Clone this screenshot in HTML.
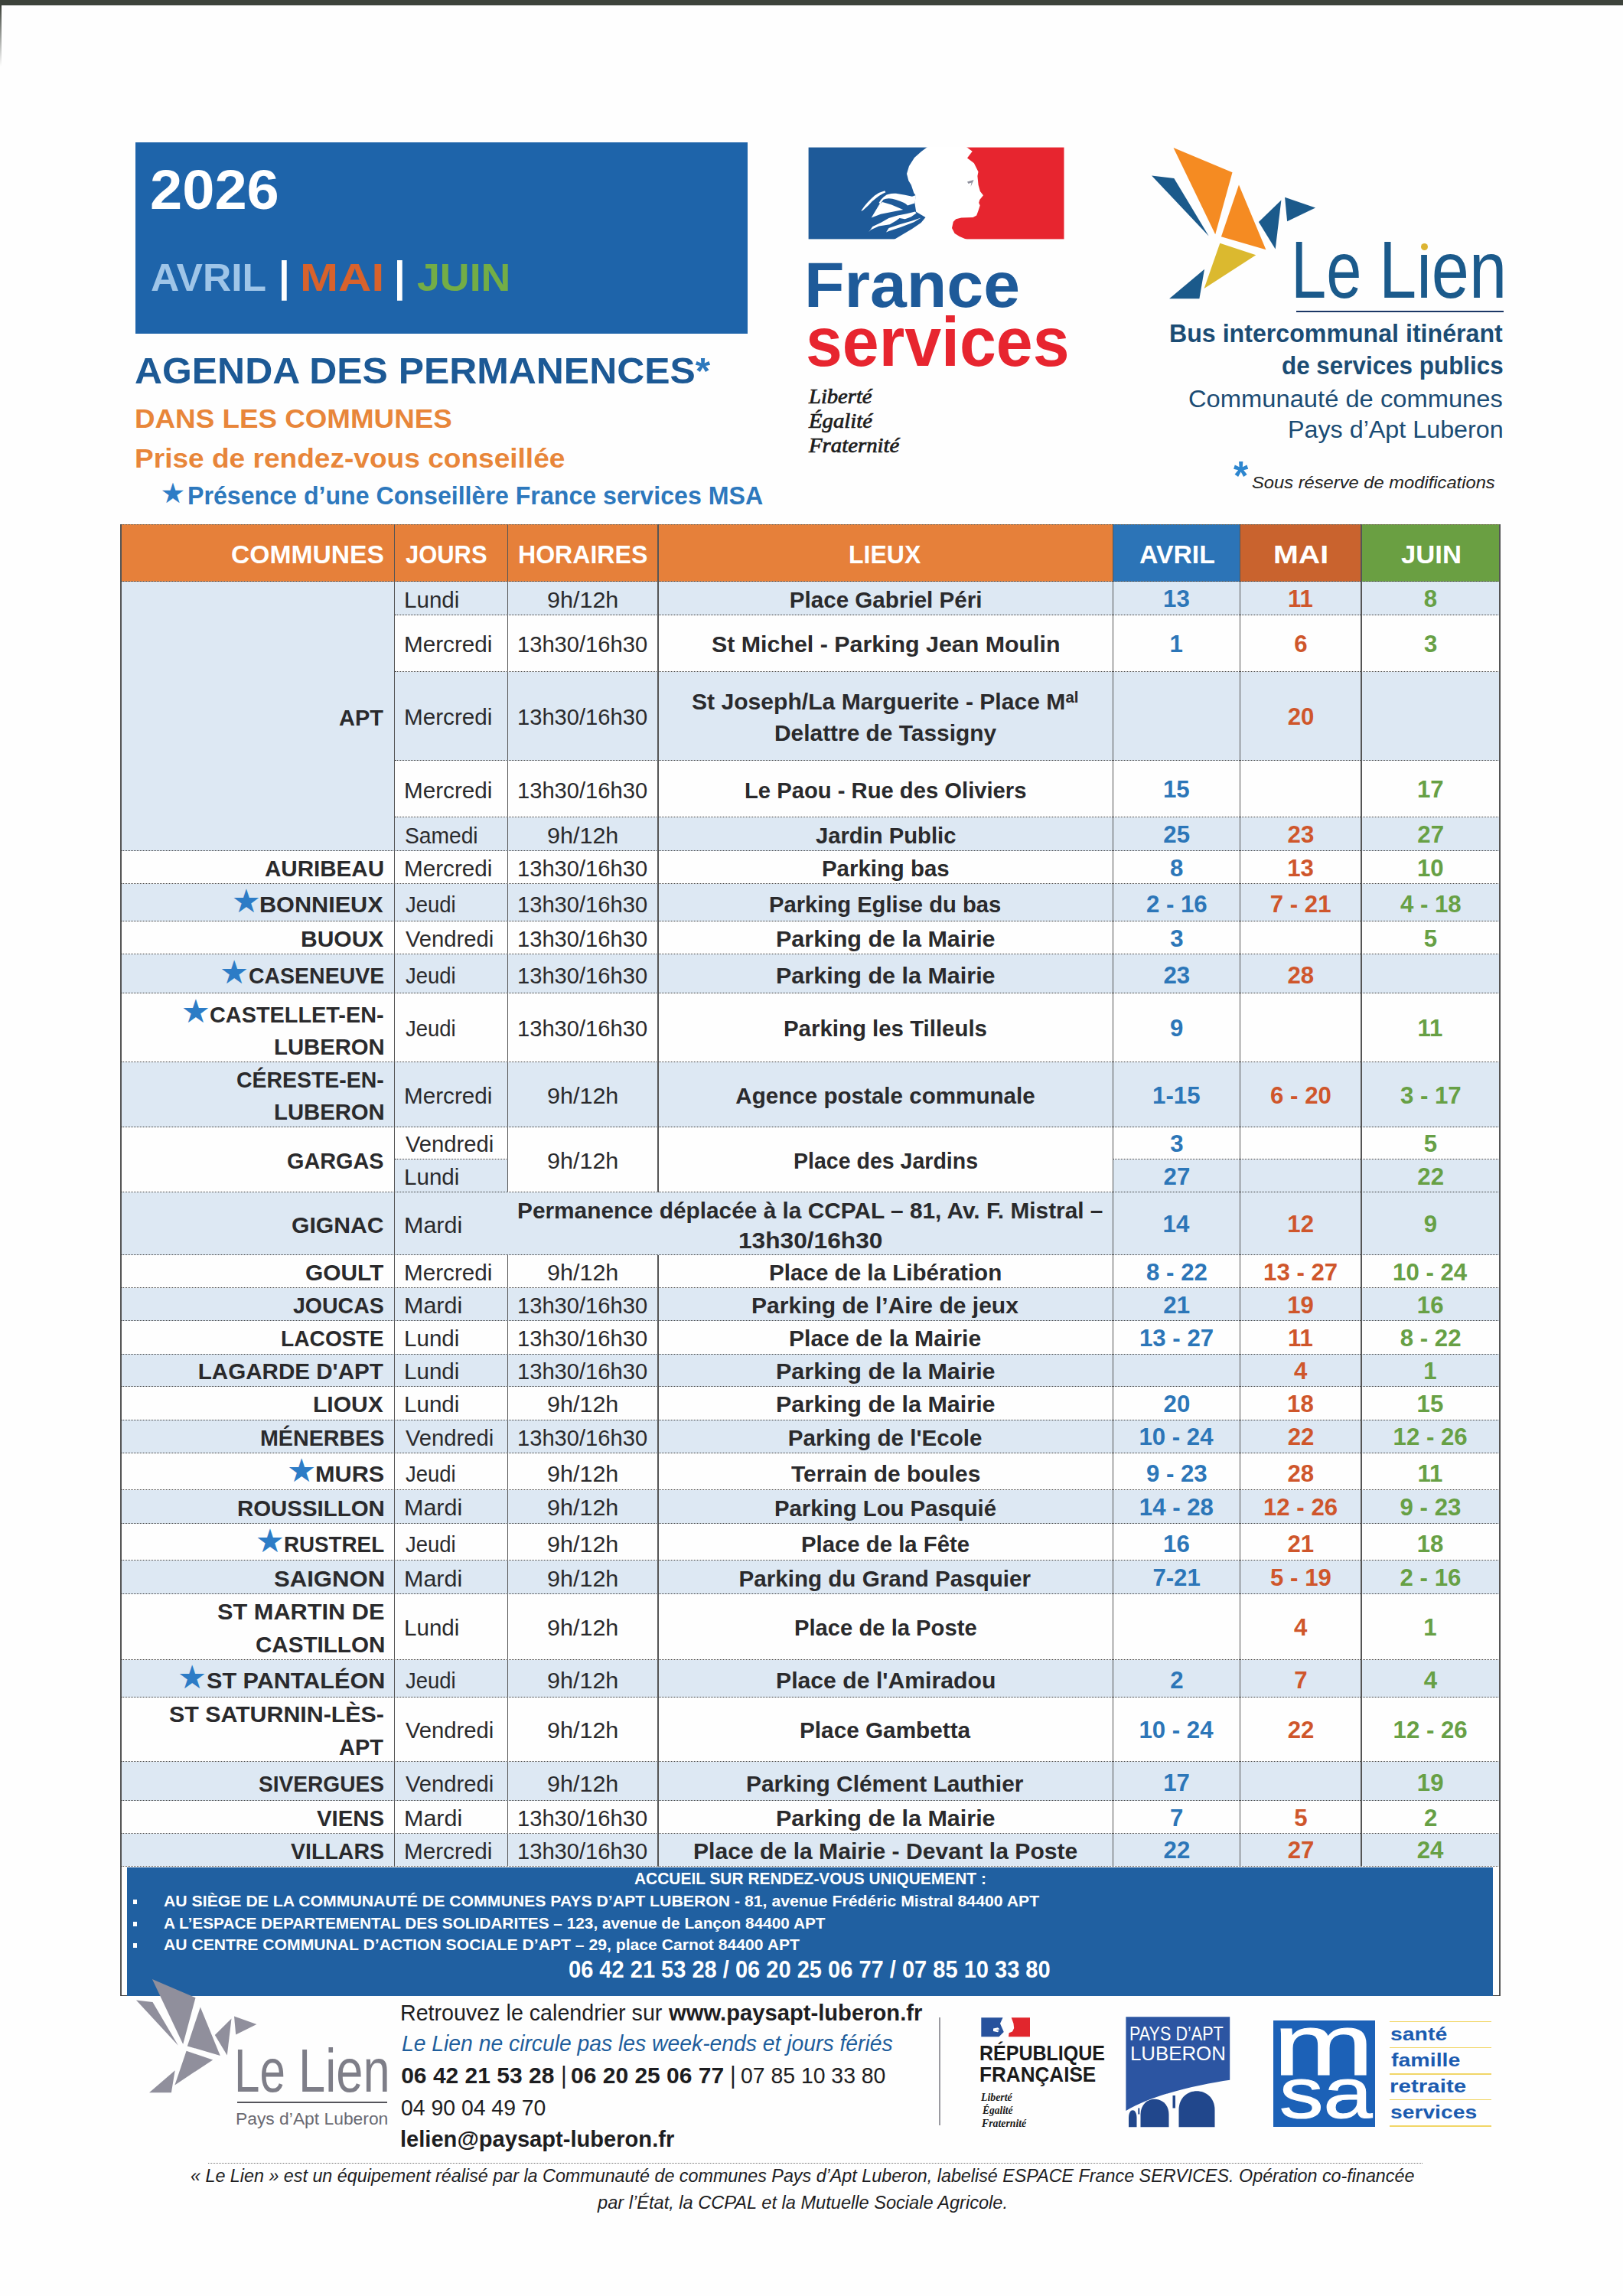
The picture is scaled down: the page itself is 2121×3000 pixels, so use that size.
<!DOCTYPE html>
<html lang="fr"><head><meta charset="utf-8"><title>Le Lien – Agenda des permanences 2026</title><style>
html,body{margin:0;padding:0;background:#fff;}
body{width:2121px;height:3000px;overflow:hidden;}
#p{position:relative;width:2121px;height:3000px;background:#fefefe;overflow:hidden;
font-family:"Liberation Sans",sans-serif;}
#p>div,#p>span,#p>svg{position:absolute;}
.t{white-space:nowrap;line-height:1;display:block;transform-origin:0 50%;}
.t sup{font-size:68%;vertical-align:baseline;position:relative;top:-0.42em;line-height:0;}
</style></head><body><div id="p">
<div style="left:0.0px;top:0.0px;width:2121.0px;height:6.5px;background:#3d433b;"></div>
<div style="left:0.0px;top:7.0px;width:2.0px;height:80.0px;background:linear-gradient(#3b4139,#fff);"></div>
<div style="left:177.0px;top:185.5px;width:799.8px;height:250.1px;background:#1e64aa;"></div>
<span class="t" style="left:196.0px;top:213.4px;font-size:71.5px;color:#fff;font-weight:700;transform:scaleX(1.061);">2026</span>
<span class="t" style="left:196.9px;top:337.9px;font-size:49.5px;color:#9fc5e8;font-weight:700;transform:scaleX(1.043);">AVRIL</span>
<span class="t" style="left:363.5px;top:333.4px;font-size:56.0px;color:#fff;font-weight:700;transform:scaleX(0.934);">|</span>
<span class="t" style="left:392.3px;top:337.9px;font-size:49.5px;color:#d8622c;font-weight:700;transform:scaleX(1.213);">MAI</span>
<span class="t" style="left:515.4px;top:333.4px;font-size:56.0px;color:#fff;font-weight:700;transform:scaleX(0.934);">|</span>
<span class="t" style="left:544.7px;top:337.9px;font-size:49.5px;color:#73ad46;font-weight:700;transform:scaleX(1.085);">JUIN</span>
<span class="t" style="left:176.3px;top:459.9px;font-size:48.4px;color:#1c5995;font-weight:700;transform:scaleX(1.031);">AGENDA DES PERMANENCES<span style="color:#2d78bd">*</span></span>
<span class="t" style="left:176.1px;top:529.9px;font-size:34.5px;color:#e8863a;font-weight:700;transform:scaleX(1.066);">DANS LES COMMUNES</span>
<span class="t" style="left:176.1px;top:580.9px;font-size:35.0px;color:#e8863a;font-weight:700;transform:scaleX(1.059);">Prise de rendez-vous conseillée</span>
<span class="t" style="left:209.6px;top:627.0px;font-size:36.5px;color:#2d7cc6;font-family:'DejaVu Sans',sans-serif;">★</span>
<span class="t" style="left:245.3px;top:630.9px;font-size:33.0px;color:#2d78bd;font-weight:700;transform:scaleX(0.974);">Présence d’une Conseillère France services MSA</span>
<svg style="left:1056px;top:192px" width="336" height="122" viewBox="0 0 336 122">
<rect x="0.6" y="0.6" width="160" height="119.8" fill="#1e5a99"/>
<rect x="188" y="0.6" width="146.5" height="119.8" fill="#e7252f"/>
<path fill="#fff" d="M156 0 L148 6 L139 14 L132 25 L129 35 L131.300 44 L134.800 49.700 L138.300 60.200 L140.600 63.200 L139.500 74 L141.200 84.800 L153.500 91.900 L147.700 98.900 L136 107.100 L124.200 114.100 L112.500 121 L208 121 L206.200 120.400 L198 117 L191.600 112.900 L188 105.900 L189.800 97.700 L193.300 94.200 L200.300 92.400 L215.600 92.100 L220.200 89.500 L222.600 83.100 L224.700 76.600 L223.200 73.100 L224.300 69 L229 63.200 L224.900 57.900 L222.600 49.700 L221.400 38 L222.500 32.400 L216.900 21.300 L208 14.600 L214.700 5.700 L206.900 0 Z"/>
<g fill="#fff">
<path d="M69.2 83.7 Q76 73 86.8 63.8 Q93 59 100.2 57.3 L101.4 59.3 Q94 62.500 89.1 66.7 Q83 71 79.2 76 L71.6 83.1 Z"/>
<path d="M92.6 73.1 Q95 68.500 98.5 65.5 Q101 63 104.3 62 Q110 60.300 114.9 60.8 L126.600 62.8 L136 64.7 L141 63 L139.500 73.500 L130.1 76.6 Q128 74.500 125.4 73.1 Q120 70.500 114.9 69 Q110 67.500 105.5 67.3 Q101.500 67.400 98.5 68.7 L94.4 74.5 Z"/>
<path d="M93.2 74.9 L97.3 72 L109 75.5 L119.6 80.1 L124.2 81.9 L110.2 84.8 L95 87.8 L82.7 92.4 Z"/>
<path d="M141.500 86.500 L134.8 91.3 Q130 93.500 126.6 94.2 L119.6 93 L114.9 96.5 L106.7 101.2 L92.6 103.6 L82.1 108.2 L79.2 111.2 L84.4 104.1 L95 98.9 L105.5 93 L117.2 89.5 L128.9 87.2 L140 84.500 Z"/>
<path d="M102 111.5 L105.5 105.9 L119.6 101.2 L136 96.5 L147.7 92.4 L138.3 98.3 L120.7 105 L105.5 110 Z"/>
</g>
<path d="M208 45.500 l8.500 -2.500 l-4 9 l1 -5.500 l-4 1.500 z" fill="#8d8f9c"/>
</svg>
<span class="t" style="left:1051.0px;top:330.8px;font-size:83.0px;color:#1e5a99;font-weight:700;transform:scaleX(1.036);">France</span>
<span class="t" style="left:1052.5px;top:401.7px;font-size:90.0px;color:#e7252f;font-weight:700;transform:scaleX(0.956);">services</span>
<span class="t" style="left:1056.9px;top:505.2px;font-size:26.4px;color:#1c1c1c;font-style:italic;font-family:'Liberation Serif',serif;transform:scaleX(1.082);-webkit-text-stroke:0.7px #1c1c1c;">Liberté</span>
<span class="t" style="left:1056.9px;top:537.2px;font-size:26.4px;color:#1c1c1c;font-style:italic;font-family:'Liberation Serif',serif;transform:scaleX(1.089);-webkit-text-stroke:0.7px #1c1c1c;">Égalité</span>
<span class="t" style="left:1057.4px;top:568.6px;font-size:26.4px;color:#1c1c1c;font-style:italic;font-family:'Liberation Serif',serif;transform:scaleX(1.091);-webkit-text-stroke:0.7px #1c1c1c;">Fraternité</span>
<svg style="left:1505.4px;top:193.1px" width="216" height="199"><polygon fill="#f58b22" points="28.5,0.0 105.5,32.3 83.2,113.2"/><polygon fill="#1b5a8b" points="0.0,36.5 29.3,40.0 74.7,115.5"/><polygon fill="#f58b22" points="114.0,48.5 149.4,133.2 90.9,116.3"/><polygon fill="#1b5a8b" points="169.4,68.5 139.9,97.0 161.7,132.5"/><polygon fill="#1b5a8b" points="174.1,64.7 214.1,78.6 177.1,96.3"/><polygon fill="#dbb92f" points="89.3,124.8 136.3,140.2 68.6,184.1"/><polygon fill="#1b5a8b" points="23.1,197.2 69.0,158.7 62.4,197.2"/></svg>
<span class="t" style="left:1687.3px;top:299.9px;font-size:105.5px;color:#1b5a8b;transform:scaleX(0.787);">Le</span>
<span class="t" style="left:1802.3px;top:299.9px;font-size:105.5px;color:#1b5a8b;transform:scaleX(0.838);">Lien</span>
<div style="left:1855.7px;top:311.0px;width:10.9px;height:15.3px;background:#fefefe;"></div>
<div style="left:1856.6px;top:317.6px;width:9.2px;height:9.2px;background:#dcb432;border-radius:50%;"></div>
<div style="left:1693.9px;top:406.4px;width:270.7px;height:1.8px;background:#1b3766;"></div>
<span class="t" style="left:1527.6px;top:419.7px;font-size:32.5px;color:#1b4c74;font-weight:700;transform:scaleX(0.989);">Bus intercommunal itinérant</span>
<span class="t" style="left:1674.6px;top:461.8px;font-size:32.5px;color:#1b4c74;font-weight:700;transform:scaleX(0.966);">de services publics</span>
<span class="t" style="left:1552.6px;top:506.1px;font-size:31.0px;color:#1b4c74;transform:scaleX(1.055);">Communauté de communes</span>
<span class="t" style="left:1682.6px;top:546.4px;font-size:31.0px;color:#1b4c74;transform:scaleX(1.041);">Pays d’Apt Luberon</span>
<span class="t" style="left:1611.8px;top:594.1px;font-size:54.0px;color:#2d86cf;font-weight:700;transform:scaleX(0.914);">*</span>
<span class="t" style="left:1636.3px;top:620.4px;font-size:22.5px;color:#222;font-style:italic;transform:scaleX(1.054);">Sous réserve de modifications</span>
<div style="left:158.0px;top:685.2px;width:1296.8px;height:74.8px;background:#e6803a;"></div>
<div style="left:1454.8px;top:685.2px;width:166.0px;height:74.8px;background:#2c74b7;"></div>
<div style="left:1620.8px;top:685.2px;width:158.2px;height:74.8px;background:#c9632e;"></div>
<div style="left:1779.0px;top:685.2px;width:181.0px;height:74.8px;background:#6a9f42;"></div>
<span class="t" style="left:302.1px;top:709.3px;font-size:32.3px;color:#fff;font-weight:700;transform:scaleX(1.041);">COMMUNES</span>
<span class="t" style="left:529.5px;top:709.3px;font-size:32.3px;color:#fff;font-weight:700;transform:scaleX(0.958);">JOURS</span>
<span class="t" style="left:676.7px;top:709.3px;font-size:32.3px;color:#fff;font-weight:700;transform:scaleX(0.993);">HORAIRES</span>
<span class="t" style="left:1109.3px;top:709.3px;font-size:32.3px;color:#fff;font-weight:700;transform:scaleX(0.991);">LIEUX</span>
<span class="t" style="left:1488.5px;top:709.3px;font-size:32.3px;color:#fff;font-weight:700;transform:scaleX(1.046);">AVRIL</span>
<span class="t" style="left:1663.8px;top:709.3px;font-size:32.3px;color:#fff;font-weight:700;transform:scaleX(1.220);">MAI</span>
<span class="t" style="left:1831.0px;top:709.3px;font-size:32.3px;color:#fff;font-weight:700;transform:scaleX(1.072);">JUIN</span>
<div style="left:158.0px;top:760.0px;width:357.6px;height:352.0px;background:#dde8f3;"></div>
<div style="left:515.6px;top:760.0px;width:1444.4px;height:44.0px;background:#dde8f3;"></div>
<div style="left:515.6px;top:877.5px;width:1444.4px;height:116.5px;background:#dde8f3;"></div>
<div style="left:515.6px;top:1068.0px;width:1444.4px;height:44.0px;background:#dde8f3;"></div>
<div style="left:158.0px;top:1155.0px;width:1802.0px;height:48.5px;background:#dde8f3;"></div>
<div style="left:158.0px;top:1247.0px;width:1802.0px;height:50.5px;background:#dde8f3;"></div>
<div style="left:158.0px;top:1388.0px;width:1802.0px;height:84.5px;background:#dde8f3;"></div>
<div style="left:158.0px;top:1558.0px;width:1802.0px;height:82.0px;background:#dde8f3;"></div>
<div style="left:158.0px;top:1683.0px;width:1802.0px;height:43.0px;background:#dde8f3;"></div>
<div style="left:158.0px;top:1769.3px;width:1802.0px;height:42.7px;background:#dde8f3;"></div>
<div style="left:158.0px;top:1855.3px;width:1802.0px;height:43.4px;background:#dde8f3;"></div>
<div style="left:158.0px;top:1946.7px;width:1802.0px;height:44.3px;background:#dde8f3;"></div>
<div style="left:158.0px;top:2039.0px;width:1802.0px;height:44.0px;background:#dde8f3;"></div>
<div style="left:158.0px;top:2168.6px;width:1802.0px;height:49.0px;background:#dde8f3;"></div>
<div style="left:158.0px;top:2302.0px;width:1802.0px;height:51.0px;background:#dde8f3;"></div>
<div style="left:158.0px;top:2395.7px;width:1802.0px;height:42.8px;background:#dde8f3;"></div>
<div style="left:515.6px;top:1514.7px;width:148.0px;height:43.3px;background:#dde8f3;"></div>
<div style="left:1454.8px;top:1514.7px;width:505.2px;height:43.3px;background:#dde8f3;"></div>
<span class="t" style="left:443.2px;top:923.3px;font-size:29.6px;color:#2a2a2c;font-weight:700;transform:scaleX(0.978);">APT</span>
<span class="t" style="left:527.6px;top:769.5px;font-size:28.6px;color:#2a2a2c;transform:scaleX(1.034);">Lundi</span>
<span class="t" style="left:715.4px;top:769.5px;font-size:28.6px;color:#2a2a2c;transform:scaleX(1.067);">9h/12h</span>
<span class="t" style="left:1031.8px;top:768.6px;font-size:29.6px;color:#2a2a2c;font-weight:700;">Place Gabriel Péri</span>
<span class="t" style="left:1520.1px;top:767.3px;font-size:31.2px;color:#2c76b8;font-weight:700;">13</span>
<span class="t" style="left:1682.9px;top:767.3px;font-size:31.2px;color:#cf562b;font-weight:700;">11</span>
<span class="t" style="left:1860.8px;top:767.3px;font-size:31.2px;color:#67a045;font-weight:700;">8</span>
<span class="t" style="left:527.6px;top:828.2px;font-size:28.6px;color:#2a2a2c;transform:scaleX(1.037);">Mercredi</span>
<span class="t" style="left:676.1px;top:828.2px;font-size:28.6px;color:#2a2a2c;transform:scaleX(1.019);">13h30/16h30</span>
<span class="t" style="left:930.0px;top:827.4px;font-size:29.6px;color:#2a2a2c;font-weight:700;transform:scaleX(1.026);">St Michel - Parking Jean Moulin</span>
<span class="t" style="left:1528.6px;top:826.0px;font-size:31.2px;color:#2c76b8;font-weight:700;">1</span>
<span class="t" style="left:1691.2px;top:826.0px;font-size:31.2px;color:#cf562b;font-weight:700;">6</span>
<span class="t" style="left:1861.0px;top:826.0px;font-size:31.2px;color:#67a045;font-weight:700;">3</span>
<span class="t" style="left:527.6px;top:923.2px;font-size:28.6px;color:#2a2a2c;transform:scaleX(1.037);">Mercredi</span>
<span class="t" style="left:676.1px;top:923.2px;font-size:28.6px;color:#2a2a2c;transform:scaleX(1.019);">13h30/16h30</span>
<span class="t sup" style="left:904.1px;top:901.9px;font-size:29.6px;color:#2a2a2c;font-weight:700;transform:scaleX(1.017);">St Joseph/La Marguerite - Place M<sup>al</sup></span>
<span class="t" style="left:1011.5px;top:942.9px;font-size:29.6px;color:#2a2a2c;font-weight:700;transform:scaleX(1.010);">Delattre de Tassigny</span>
<span class="t" style="left:1682.7px;top:921.0px;font-size:31.2px;color:#cf562b;font-weight:700;">20</span>
<span class="t" style="left:527.6px;top:1018.5px;font-size:28.6px;color:#2a2a2c;transform:scaleX(1.037);">Mercredi</span>
<span class="t" style="left:676.1px;top:1018.5px;font-size:28.6px;color:#2a2a2c;transform:scaleX(1.019);">13h30/16h30</span>
<span class="t" style="left:972.8px;top:1017.6px;font-size:29.6px;color:#2a2a2c;font-weight:700;transform:scaleX(0.987);">Le Paou - Rue des Oliviers</span>
<span class="t" style="left:1519.9px;top:1016.3px;font-size:31.2px;color:#2c76b8;font-weight:700;">15</span>
<span class="t" style="left:1851.9px;top:1016.3px;font-size:31.2px;color:#67a045;font-weight:700;">17</span>
<span class="t" style="left:528.7px;top:1077.5px;font-size:28.6px;color:#2a2a2c;transform:scaleX(0.986);">Samedi</span>
<span class="t" style="left:715.4px;top:1077.5px;font-size:28.6px;color:#2a2a2c;transform:scaleX(1.067);">9h/12h</span>
<span class="t" style="left:1065.9px;top:1076.6px;font-size:29.6px;color:#2a2a2c;font-weight:700;transform:scaleX(0.987);">Jardin Public</span>
<span class="t" style="left:1520.3px;top:1075.3px;font-size:31.2px;color:#2c76b8;font-weight:700;">25</span>
<span class="t" style="left:1682.6px;top:1075.3px;font-size:31.2px;color:#cf562b;font-weight:700;">23</span>
<span class="t" style="left:1852.3px;top:1075.3px;font-size:31.2px;color:#67a045;font-weight:700;">27</span>
<span class="t" style="left:345.9px;top:1120.1px;font-size:29.6px;color:#2a2a2c;font-weight:700;">AURIBEAU</span>
<span class="t" style="left:527.6px;top:1121.0px;font-size:28.6px;color:#2a2a2c;transform:scaleX(1.037);">Mercredi</span>
<span class="t" style="left:676.1px;top:1121.0px;font-size:28.6px;color:#2a2a2c;transform:scaleX(1.019);">13h30/16h30</span>
<span class="t" style="left:1073.7px;top:1120.1px;font-size:29.6px;color:#2a2a2c;font-weight:700;transform:scaleX(0.993);">Parking bas</span>
<span class="t" style="left:1529.1px;top:1118.8px;font-size:31.2px;color:#2c76b8;font-weight:700;">8</span>
<span class="t" style="left:1682.2px;top:1118.8px;font-size:31.2px;color:#cf562b;font-weight:700;">13</span>
<span class="t" style="left:1851.9px;top:1118.8px;font-size:31.2px;color:#67a045;font-weight:700;">10</span>
<span class="t" style="left:339.4px;top:1167.4px;font-size:29.6px;color:#2a2a2c;font-weight:700;transform:scaleX(1.035);">BONNIEUX</span>
<span class="t" style="left:302.7px;top:1157.4px;font-size:42.5px;color:#2d7cc6;font-family:'DejaVu Sans',sans-serif;">★</span>
<span class="t" style="left:529.6px;top:1168.2px;font-size:28.6px;color:#2a2a2c;transform:scaleX(0.961);">Jeudi</span>
<span class="t" style="left:676.1px;top:1168.2px;font-size:28.6px;color:#2a2a2c;transform:scaleX(1.019);">13h30/16h30</span>
<span class="t" style="left:1005.4px;top:1167.4px;font-size:29.6px;color:#2a2a2c;font-weight:700;transform:scaleX(0.986);">Parking Eglise du bas</span>
<span class="t" style="left:1497.9px;top:1166.0px;font-size:31.2px;color:#2c76b8;font-weight:700;">2 - 16</span>
<span class="t" style="left:1659.8px;top:1166.0px;font-size:31.2px;color:#cf562b;font-weight:700;">7 - 21</span>
<span class="t" style="left:1829.9px;top:1166.0px;font-size:31.2px;color:#67a045;font-weight:700;">4 - 18</span>
<span class="t" style="left:392.5px;top:1211.9px;font-size:29.6px;color:#2a2a2c;font-weight:700;transform:scaleX(1.014);">BUOUX</span>
<span class="t" style="left:529.9px;top:1212.7px;font-size:28.6px;color:#2a2a2c;transform:scaleX(1.021);">Vendredi</span>
<span class="t" style="left:676.1px;top:1212.7px;font-size:28.6px;color:#2a2a2c;transform:scaleX(1.019);">13h30/16h30</span>
<span class="t" style="left:1013.6px;top:1211.9px;font-size:29.6px;color:#2a2a2c;font-weight:700;transform:scaleX(1.031);">Parking de la Mairie</span>
<span class="t" style="left:1529.3px;top:1210.5px;font-size:31.2px;color:#2c76b8;font-weight:700;">3</span>
<span class="t" style="left:1860.8px;top:1210.5px;font-size:31.2px;color:#67a045;font-weight:700;">5</span>
<span class="t" style="left:324.7px;top:1260.4px;font-size:29.6px;color:#2a2a2c;font-weight:700;transform:scaleX(0.962);">CASENEUVE</span>
<span class="t" style="left:287.1px;top:1250.4px;font-size:42.5px;color:#2d7cc6;font-family:'DejaVu Sans',sans-serif;">★</span>
<span class="t" style="left:529.6px;top:1261.2px;font-size:28.6px;color:#2a2a2c;transform:scaleX(0.961);">Jeudi</span>
<span class="t" style="left:676.1px;top:1261.2px;font-size:28.6px;color:#2a2a2c;transform:scaleX(1.019);">13h30/16h30</span>
<span class="t" style="left:1013.6px;top:1260.4px;font-size:29.6px;color:#2a2a2c;font-weight:700;transform:scaleX(1.031);">Parking de la Mairie</span>
<span class="t" style="left:1520.5px;top:1259.0px;font-size:31.2px;color:#2c76b8;font-weight:700;">23</span>
<span class="t" style="left:1682.5px;top:1259.0px;font-size:31.2px;color:#cf562b;font-weight:700;">28</span>
<span class="t" style="left:274.3px;top:1310.5px;font-size:29.6px;color:#2a2a2c;font-weight:700;transform:scaleX(0.975);">CASTELLET-EN-</span>
<span class="t" style="left:236.8px;top:1300.6px;font-size:42.5px;color:#2d7cc6;font-family:'DejaVu Sans',sans-serif;">★</span>
<span class="t" style="left:358.1px;top:1352.8px;font-size:29.6px;color:#2a2a2c;font-weight:700;transform:scaleX(0.989);">LUBERON</span>
<span class="t" style="left:529.6px;top:1330.2px;font-size:28.6px;color:#2a2a2c;transform:scaleX(0.961);">Jeudi</span>
<span class="t" style="left:676.1px;top:1330.2px;font-size:28.6px;color:#2a2a2c;transform:scaleX(1.019);">13h30/16h30</span>
<span class="t" style="left:1024.0px;top:1329.4px;font-size:29.6px;color:#2a2a2c;font-weight:700;transform:scaleX(0.994);">Parking les Tilleuls</span>
<span class="t" style="left:1529.1px;top:1328.0px;font-size:31.2px;color:#2c76b8;font-weight:700;">9</span>
<span class="t" style="left:1852.5px;top:1328.0px;font-size:31.2px;color:#67a045;font-weight:700;">11</span>
<span class="t" style="left:309.2px;top:1395.7px;font-size:29.6px;color:#2a2a2c;font-weight:700;transform:scaleX(0.961);">CÉRESTE-EN-</span>
<span class="t" style="left:358.1px;top:1438.0px;font-size:29.6px;color:#2a2a2c;font-weight:700;transform:scaleX(0.989);">LUBERON</span>
<span class="t" style="left:527.6px;top:1417.7px;font-size:28.6px;color:#2a2a2c;transform:scaleX(1.037);">Mercredi</span>
<span class="t" style="left:715.4px;top:1417.7px;font-size:28.6px;color:#2a2a2c;transform:scaleX(1.067);">9h/12h</span>
<span class="t" style="left:961.3px;top:1416.9px;font-size:29.6px;color:#2a2a2c;font-weight:700;">Agence postale communale</span>
<span class="t" style="left:1506.1px;top:1415.5px;font-size:31.2px;color:#2c76b8;font-weight:700;">1-15</span>
<span class="t" style="left:1660.1px;top:1415.5px;font-size:31.2px;color:#cf562b;font-weight:700;">6 - 20</span>
<span class="t" style="left:1829.9px;top:1415.5px;font-size:31.2px;color:#67a045;font-weight:700;">3 - 17</span>
<span class="t" style="left:375.4px;top:1501.9px;font-size:29.6px;color:#2a2a2c;font-weight:700;transform:scaleX(0.974);">GARGAS</span>
<span class="t" style="left:529.9px;top:1481.1px;font-size:28.6px;color:#2a2a2c;transform:scaleX(1.021);">Vendredi</span>
<span class="t" style="left:527.6px;top:1524.2px;font-size:28.6px;color:#2a2a2c;transform:scaleX(1.034);">Lundi</span>
<span class="t" style="left:1529.3px;top:1478.9px;font-size:31.2px;color:#2c76b8;font-weight:700;">3</span>
<span class="t" style="left:1860.8px;top:1478.9px;font-size:31.2px;color:#67a045;font-weight:700;">5</span>
<span class="t" style="left:1520.6px;top:1522.0px;font-size:31.2px;color:#2c76b8;font-weight:700;">27</span>
<span class="t" style="left:1852.3px;top:1522.0px;font-size:31.2px;color:#67a045;font-weight:700;">22</span>
<span class="t" style="left:715.4px;top:1502.7px;font-size:28.6px;color:#2a2a2c;transform:scaleX(1.067);">9h/12h</span>
<span class="t" style="left:1036.5px;top:1501.9px;font-size:29.6px;color:#2a2a2c;font-weight:700;transform:scaleX(0.964);">Place des Jardins</span>
<span class="t" style="left:380.9px;top:1585.6px;font-size:29.6px;color:#2a2a2c;font-weight:700;transform:scaleX(1.019);">GIGNAC</span>
<span class="t" style="left:527.6px;top:1586.5px;font-size:28.6px;color:#2a2a2c;transform:scaleX(1.066);">Mardi</span>
<span class="t" style="left:676.1px;top:1566.8px;font-size:29.6px;color:#2a2a2c;font-weight:700;transform:scaleX(1.008);">Permanence déplacée à la CCPAL – 81, Av. F. Mistral –</span>
<span class="t" style="left:964.6px;top:1605.6px;font-size:29.6px;color:#2a2a2c;font-weight:700;transform:scaleX(1.070);">13h30/16h30</span>
<span class="t" style="left:1519.6px;top:1584.3px;font-size:31.2px;color:#2c76b8;font-weight:700;">14</span>
<span class="t" style="left:1682.3px;top:1584.3px;font-size:31.2px;color:#cf562b;font-weight:700;">12</span>
<span class="t" style="left:1860.8px;top:1584.3px;font-size:31.2px;color:#67a045;font-weight:700;">9</span>
<span class="t" style="left:398.8px;top:1648.1px;font-size:29.6px;color:#2a2a2c;font-weight:700;transform:scaleX(1.009);">GOULT</span>
<span class="t" style="left:527.6px;top:1649.0px;font-size:28.6px;color:#2a2a2c;transform:scaleX(1.037);">Mercredi</span>
<span class="t" style="left:715.4px;top:1649.0px;font-size:28.6px;color:#2a2a2c;transform:scaleX(1.067);">9h/12h</span>
<span class="t" style="left:1005.0px;top:1648.1px;font-size:29.6px;color:#2a2a2c;font-weight:700;">Place de la Libération</span>
<span class="t" style="left:1498.1px;top:1646.8px;font-size:31.2px;color:#2c76b8;font-weight:700;">8 - 22</span>
<span class="t" style="left:1651.1px;top:1646.8px;font-size:31.2px;color:#cf562b;font-weight:700;">13 - 27</span>
<span class="t" style="left:1820.1px;top:1646.8px;font-size:31.2px;color:#67a045;font-weight:700;">10 - 24</span>
<span class="t" style="left:383.1px;top:1691.1px;font-size:29.6px;color:#2a2a2c;font-weight:700;transform:scaleX(0.963);">JOUCAS</span>
<span class="t" style="left:527.6px;top:1692.0px;font-size:28.6px;color:#2a2a2c;transform:scaleX(1.066);">Mardi</span>
<span class="t" style="left:676.1px;top:1692.0px;font-size:28.6px;color:#2a2a2c;transform:scaleX(1.019);">13h30/16h30</span>
<span class="t" style="left:982.0px;top:1691.1px;font-size:29.6px;color:#2a2a2c;font-weight:700;transform:scaleX(1.015);">Parking de l’Aire de jeux</span>
<span class="t" style="left:1520.3px;top:1689.8px;font-size:31.2px;color:#2c76b8;font-weight:700;">21</span>
<span class="t" style="left:1682.2px;top:1689.8px;font-size:31.2px;color:#cf562b;font-weight:700;">19</span>
<span class="t" style="left:1851.8px;top:1689.8px;font-size:31.2px;color:#67a045;font-weight:700;">16</span>
<span class="t" style="left:367.2px;top:1734.3px;font-size:29.6px;color:#2a2a2c;font-weight:700;transform:scaleX(0.952);">LACOSTE</span>
<span class="t" style="left:527.6px;top:1735.1px;font-size:28.6px;color:#2a2a2c;transform:scaleX(1.034);">Lundi</span>
<span class="t" style="left:676.1px;top:1735.1px;font-size:28.6px;color:#2a2a2c;transform:scaleX(1.019);">13h30/16h30</span>
<span class="t" style="left:1031.2px;top:1734.3px;font-size:29.6px;color:#2a2a2c;font-weight:700;transform:scaleX(1.018);">Place de la Mairie</span>
<span class="t" style="left:1489.0px;top:1732.9px;font-size:31.2px;color:#2c76b8;font-weight:700;">13 - 27</span>
<span class="t" style="left:1682.9px;top:1732.9px;font-size:31.2px;color:#cf562b;font-weight:700;">11</span>
<span class="t" style="left:1829.8px;top:1732.9px;font-size:31.2px;color:#67a045;font-weight:700;">8 - 22</span>
<span class="t" style="left:258.7px;top:1777.3px;font-size:29.6px;color:#2a2a2c;font-weight:700;">LAGARDE D'APT</span>
<span class="t" style="left:527.6px;top:1778.1px;font-size:28.6px;color:#2a2a2c;transform:scaleX(1.034);">Lundi</span>
<span class="t" style="left:676.1px;top:1778.1px;font-size:28.6px;color:#2a2a2c;transform:scaleX(1.019);">13h30/16h30</span>
<span class="t" style="left:1013.6px;top:1777.3px;font-size:29.6px;color:#2a2a2c;font-weight:700;transform:scaleX(1.031);">Parking de la Mairie</span>
<span class="t" style="left:1691.1px;top:1775.9px;font-size:31.2px;color:#cf562b;font-weight:700;">4</span>
<span class="t" style="left:1860.3px;top:1775.9px;font-size:31.2px;color:#67a045;font-weight:700;">1</span>
<span class="t" style="left:409.1px;top:1820.3px;font-size:29.6px;color:#2a2a2c;font-weight:700;transform:scaleX(1.015);">LIOUX</span>
<span class="t" style="left:527.6px;top:1821.1px;font-size:28.6px;color:#2a2a2c;transform:scaleX(1.034);">Lundi</span>
<span class="t" style="left:715.4px;top:1821.1px;font-size:28.6px;color:#2a2a2c;transform:scaleX(1.067);">9h/12h</span>
<span class="t" style="left:1013.6px;top:1820.3px;font-size:29.6px;color:#2a2a2c;font-weight:700;transform:scaleX(1.031);">Parking de la Mairie</span>
<span class="t" style="left:1520.6px;top:1818.9px;font-size:31.2px;color:#2c76b8;font-weight:700;">20</span>
<span class="t" style="left:1682.1px;top:1818.9px;font-size:31.2px;color:#cf562b;font-weight:700;">18</span>
<span class="t" style="left:1851.6px;top:1818.9px;font-size:31.2px;color:#67a045;font-weight:700;">15</span>
<span class="t" style="left:339.5px;top:1863.6px;font-size:29.6px;color:#2a2a2c;font-weight:700;transform:scaleX(0.968);">MÉNERBES</span>
<span class="t" style="left:529.9px;top:1864.5px;font-size:28.6px;color:#2a2a2c;transform:scaleX(1.021);">Vendredi</span>
<span class="t" style="left:676.1px;top:1864.5px;font-size:28.6px;color:#2a2a2c;transform:scaleX(1.019);">13h30/16h30</span>
<span class="t" style="left:1029.7px;top:1863.6px;font-size:29.6px;color:#2a2a2c;font-weight:700;">Parking de l'Ecole</span>
<span class="t" style="left:1488.4px;top:1862.3px;font-size:31.2px;color:#2c76b8;font-weight:700;">10 - 24</span>
<span class="t" style="left:1682.7px;top:1862.3px;font-size:31.2px;color:#cf562b;font-weight:700;">22</span>
<span class="t" style="left:1820.6px;top:1862.3px;font-size:31.2px;color:#67a045;font-weight:700;">12 - 26</span>
<span class="t" style="left:411.8px;top:1910.8px;font-size:29.6px;color:#2a2a2c;font-weight:700;transform:scaleX(1.035);">MURS</span>
<span class="t" style="left:375.1px;top:1900.9px;font-size:42.5px;color:#2d7cc6;font-family:'DejaVu Sans',sans-serif;">★</span>
<span class="t" style="left:529.6px;top:1911.7px;font-size:28.6px;color:#2a2a2c;transform:scaleX(0.961);">Jeudi</span>
<span class="t" style="left:715.4px;top:1911.7px;font-size:28.6px;color:#2a2a2c;transform:scaleX(1.067);">9h/12h</span>
<span class="t" style="left:1034.2px;top:1910.8px;font-size:29.6px;color:#2a2a2c;font-weight:700;transform:scaleX(1.012);">Terrain de boules</span>
<span class="t" style="left:1497.9px;top:1909.5px;font-size:31.2px;color:#2c76b8;font-weight:700;">9 - 23</span>
<span class="t" style="left:1682.5px;top:1909.5px;font-size:31.2px;color:#cf562b;font-weight:700;">28</span>
<span class="t" style="left:1852.5px;top:1909.5px;font-size:31.2px;color:#67a045;font-weight:700;">11</span>
<span class="t" style="left:309.8px;top:1955.5px;font-size:29.6px;color:#2a2a2c;font-weight:700;transform:scaleX(0.994);">ROUSSILLON</span>
<span class="t" style="left:527.6px;top:1956.3px;font-size:28.6px;color:#2a2a2c;transform:scaleX(1.066);">Mardi</span>
<span class="t" style="left:715.4px;top:1956.3px;font-size:28.6px;color:#2a2a2c;transform:scaleX(1.067);">9h/12h</span>
<span class="t" style="left:1011.8px;top:1955.5px;font-size:29.6px;color:#2a2a2c;font-weight:700;transform:scaleX(0.991);">Parking Lou Pasquié</span>
<span class="t" style="left:1488.8px;top:1954.1px;font-size:31.2px;color:#2c76b8;font-weight:700;">14 - 28</span>
<span class="t" style="left:1651.0px;top:1954.1px;font-size:31.2px;color:#cf562b;font-weight:700;">12 - 26</span>
<span class="t" style="left:1829.6px;top:1954.1px;font-size:31.2px;color:#67a045;font-weight:700;">9 - 23</span>
<span class="t" style="left:370.6px;top:2003.1px;font-size:29.6px;color:#2a2a2c;font-weight:700;transform:scaleX(0.938);">RUSTREL</span>
<span class="t" style="left:333.7px;top:1993.2px;font-size:42.5px;color:#2d7cc6;font-family:'DejaVu Sans',sans-serif;">★</span>
<span class="t" style="left:529.6px;top:2004.0px;font-size:28.6px;color:#2a2a2c;transform:scaleX(0.961);">Jeudi</span>
<span class="t" style="left:715.4px;top:2004.0px;font-size:28.6px;color:#2a2a2c;transform:scaleX(1.067);">9h/12h</span>
<span class="t" style="left:1046.8px;top:2003.1px;font-size:29.6px;color:#2a2a2c;font-weight:700;transform:scaleX(0.991);">Place de la Fête</span>
<span class="t" style="left:1520.1px;top:2001.8px;font-size:31.2px;color:#2c76b8;font-weight:700;">16</span>
<span class="t" style="left:1682.4px;top:2001.8px;font-size:31.2px;color:#cf562b;font-weight:700;">21</span>
<span class="t" style="left:1851.7px;top:2001.8px;font-size:31.2px;color:#67a045;font-weight:700;">18</span>
<span class="t" style="left:357.7px;top:2047.6px;font-size:29.6px;color:#2a2a2c;font-weight:700;transform:scaleX(1.051);">SAIGNON</span>
<span class="t" style="left:527.6px;top:2048.5px;font-size:28.6px;color:#2a2a2c;transform:scaleX(1.066);">Mardi</span>
<span class="t" style="left:715.4px;top:2048.5px;font-size:28.6px;color:#2a2a2c;transform:scaleX(1.067);">9h/12h</span>
<span class="t" style="left:965.5px;top:2047.6px;font-size:29.6px;color:#2a2a2c;font-weight:700;">Parking du Grand Pasquier</span>
<span class="t" style="left:1506.4px;top:2046.3px;font-size:31.2px;color:#2c76b8;font-weight:700;">7-21</span>
<span class="t" style="left:1660.1px;top:2046.3px;font-size:31.2px;color:#cf562b;font-weight:700;">5 - 19</span>
<span class="t" style="left:1829.6px;top:2046.3px;font-size:31.2px;color:#67a045;font-weight:700;">2 - 16</span>
<span class="t" style="left:283.5px;top:2091.3px;font-size:29.6px;color:#2a2a2c;font-weight:700;transform:scaleX(1.038);">ST MARTIN DE</span>
<span class="t" style="left:334.0px;top:2133.6px;font-size:29.6px;color:#2a2a2c;font-weight:700;">CASTILLON</span>
<span class="t" style="left:527.6px;top:2113.3px;font-size:28.6px;color:#2a2a2c;transform:scaleX(1.034);">Lundi</span>
<span class="t" style="left:715.4px;top:2113.3px;font-size:28.6px;color:#2a2a2c;transform:scaleX(1.067);">9h/12h</span>
<span class="t" style="left:1037.5px;top:2112.4px;font-size:29.6px;color:#2a2a2c;font-weight:700;transform:scaleX(0.987);">Place de la Poste</span>
<span class="t" style="left:1691.1px;top:2111.1px;font-size:31.2px;color:#cf562b;font-weight:700;">4</span>
<span class="t" style="left:1860.3px;top:2111.1px;font-size:31.2px;color:#67a045;font-weight:700;">1</span>
<span class="t" style="left:269.7px;top:2181.2px;font-size:29.6px;color:#2a2a2c;font-weight:700;transform:scaleX(1.033);">ST PANTALÉON</span>
<span class="t" style="left:231.9px;top:2171.3px;font-size:42.5px;color:#2d7cc6;font-family:'DejaVu Sans',sans-serif;">★</span>
<span class="t" style="left:529.6px;top:2182.1px;font-size:28.6px;color:#2a2a2c;transform:scaleX(0.961);">Jeudi</span>
<span class="t" style="left:715.4px;top:2182.1px;font-size:28.6px;color:#2a2a2c;transform:scaleX(1.067);">9h/12h</span>
<span class="t" style="left:1013.6px;top:2181.2px;font-size:29.6px;color:#2a2a2c;font-weight:700;transform:scaleX(1.020);">Place de l'Amiradou</span>
<span class="t" style="left:1529.2px;top:2179.9px;font-size:31.2px;color:#2c76b8;font-weight:700;">2</span>
<span class="t" style="left:1691.2px;top:2179.9px;font-size:31.2px;color:#cf562b;font-weight:700;">7</span>
<span class="t" style="left:1860.7px;top:2179.9px;font-size:31.2px;color:#67a045;font-weight:700;">4</span>
<span class="t" style="left:221.1px;top:2225.3px;font-size:29.6px;color:#2a2a2c;font-weight:700;transform:scaleX(1.025);">ST SATURNIN-LÈS-</span>
<span class="t" style="left:443.2px;top:2267.6px;font-size:29.6px;color:#2a2a2c;font-weight:700;transform:scaleX(0.978);">APT</span>
<span class="t" style="left:529.9px;top:2247.3px;font-size:28.6px;color:#2a2a2c;transform:scaleX(1.021);">Vendredi</span>
<span class="t" style="left:715.4px;top:2247.3px;font-size:28.6px;color:#2a2a2c;transform:scaleX(1.067);">9h/12h</span>
<span class="t" style="left:1044.7px;top:2246.4px;font-size:29.6px;color:#2a2a2c;font-weight:700;transform:scaleX(1.005);">Place Gambetta</span>
<span class="t" style="left:1488.4px;top:2245.1px;font-size:31.2px;color:#2c76b8;font-weight:700;">10 - 24</span>
<span class="t" style="left:1682.7px;top:2245.1px;font-size:31.2px;color:#cf562b;font-weight:700;">22</span>
<span class="t" style="left:1820.6px;top:2245.1px;font-size:31.2px;color:#67a045;font-weight:700;">12 - 26</span>
<span class="t" style="left:337.8px;top:2315.6px;font-size:29.6px;color:#2a2a2c;font-weight:700;transform:scaleX(0.950);">SIVERGUES</span>
<span class="t" style="left:529.9px;top:2316.5px;font-size:28.6px;color:#2a2a2c;transform:scaleX(1.021);">Vendredi</span>
<span class="t" style="left:715.4px;top:2316.5px;font-size:28.6px;color:#2a2a2c;transform:scaleX(1.067);">9h/12h</span>
<span class="t" style="left:975.4px;top:2315.6px;font-size:29.6px;color:#2a2a2c;font-weight:700;transform:scaleX(1.011);">Parking Clément Lauthier</span>
<span class="t" style="left:1520.2px;top:2314.3px;font-size:31.2px;color:#2c76b8;font-weight:700;">17</span>
<span class="t" style="left:1851.8px;top:2314.3px;font-size:31.2px;color:#67a045;font-weight:700;">19</span>
<span class="t" style="left:413.7px;top:2361.0px;font-size:29.6px;color:#2a2a2c;font-weight:700;transform:scaleX(0.993);">VIENS</span>
<span class="t" style="left:527.6px;top:2361.8px;font-size:28.6px;color:#2a2a2c;transform:scaleX(1.066);">Mardi</span>
<span class="t" style="left:676.1px;top:2361.8px;font-size:28.6px;color:#2a2a2c;transform:scaleX(1.019);">13h30/16h30</span>
<span class="t" style="left:1013.6px;top:2361.0px;font-size:29.6px;color:#2a2a2c;font-weight:700;transform:scaleX(1.031);">Parking de la Mairie</span>
<span class="t" style="left:1529.1px;top:2359.6px;font-size:31.2px;color:#2c76b8;font-weight:700;">7</span>
<span class="t" style="left:1691.2px;top:2359.6px;font-size:31.2px;color:#cf562b;font-weight:700;">5</span>
<span class="t" style="left:1860.9px;top:2359.6px;font-size:31.2px;color:#67a045;font-weight:700;">2</span>
<span class="t" style="left:379.9px;top:2403.7px;font-size:29.6px;color:#2a2a2c;font-weight:700;transform:scaleX(0.964);">VILLARS</span>
<span class="t" style="left:527.6px;top:2404.6px;font-size:28.6px;color:#2a2a2c;transform:scaleX(1.037);">Mercredi</span>
<span class="t" style="left:676.1px;top:2404.6px;font-size:28.6px;color:#2a2a2c;transform:scaleX(1.019);">13h30/16h30</span>
<span class="t" style="left:905.7px;top:2403.7px;font-size:29.6px;color:#2a2a2c;font-weight:700;transform:scaleX(1.018);">Place de la Mairie - Devant la Poste</span>
<span class="t" style="left:1520.6px;top:2402.4px;font-size:31.2px;color:#2c76b8;font-weight:700;">22</span>
<span class="t" style="left:1682.7px;top:2402.4px;font-size:31.2px;color:#cf562b;font-weight:700;">27</span>
<span class="t" style="left:1851.7px;top:2402.4px;font-size:31.2px;color:#67a045;font-weight:700;">24</span>
<div style="left:158.0px;top:684.5px;width:1802.0px;height:0;border-top:1.5px dotted #6a5a45;"></div>
<div style="left:158.0px;top:759.2px;width:1802.0px;height:0;border-top:1.5px dotted #3e3e3e;"></div>
<div style="left:515.6px;top:803.2px;width:1444.4px;height:0;border-top:1.5px dotted #3e3e3e;"></div>
<div style="left:515.6px;top:876.8px;width:1444.4px;height:0;border-top:1.5px dotted #3e3e3e;"></div>
<div style="left:515.6px;top:993.2px;width:1444.4px;height:0;border-top:1.5px dotted #3e3e3e;"></div>
<div style="left:515.6px;top:1067.2px;width:1444.4px;height:0;border-top:1.5px dotted #3e3e3e;"></div>
<div style="left:158.0px;top:1111.2px;width:1802.0px;height:0;border-top:1.5px dotted #3e3e3e;"></div>
<div style="left:158.0px;top:1154.2px;width:1802.0px;height:0;border-top:1.5px dotted #3e3e3e;"></div>
<div style="left:158.0px;top:1202.8px;width:1802.0px;height:0;border-top:1.5px dotted #3e3e3e;"></div>
<div style="left:158.0px;top:1246.2px;width:1802.0px;height:0;border-top:1.5px dotted #3e3e3e;"></div>
<div style="left:158.0px;top:1296.8px;width:1802.0px;height:0;border-top:1.5px dotted #3e3e3e;"></div>
<div style="left:158.0px;top:1387.2px;width:1802.0px;height:0;border-top:1.5px dotted #3e3e3e;"></div>
<div style="left:158.0px;top:1471.8px;width:1802.0px;height:0;border-top:1.5px dotted #3e3e3e;"></div>
<div style="left:158.0px;top:1557.2px;width:1802.0px;height:0;border-top:1.5px dotted #3e3e3e;"></div>
<div style="left:158.0px;top:1639.2px;width:1802.0px;height:0;border-top:1.5px dotted #3e3e3e;"></div>
<div style="left:158.0px;top:1682.2px;width:1802.0px;height:0;border-top:1.5px dotted #3e3e3e;"></div>
<div style="left:158.0px;top:1725.2px;width:1802.0px;height:0;border-top:1.5px dotted #3e3e3e;"></div>
<div style="left:158.0px;top:1768.5px;width:1802.0px;height:0;border-top:1.5px dotted #3e3e3e;"></div>
<div style="left:158.0px;top:1811.2px;width:1802.0px;height:0;border-top:1.5px dotted #3e3e3e;"></div>
<div style="left:158.0px;top:1854.5px;width:1802.0px;height:0;border-top:1.5px dotted #3e3e3e;"></div>
<div style="left:158.0px;top:1898.0px;width:1802.0px;height:0;border-top:1.5px dotted #3e3e3e;"></div>
<div style="left:158.0px;top:1946.0px;width:1802.0px;height:0;border-top:1.5px dotted #3e3e3e;"></div>
<div style="left:158.0px;top:1990.2px;width:1802.0px;height:0;border-top:1.5px dotted #3e3e3e;"></div>
<div style="left:158.0px;top:2038.2px;width:1802.0px;height:0;border-top:1.5px dotted #3e3e3e;"></div>
<div style="left:158.0px;top:2082.2px;width:1802.0px;height:0;border-top:1.5px dotted #3e3e3e;"></div>
<div style="left:158.0px;top:2167.8px;width:1802.0px;height:0;border-top:1.5px dotted #3e3e3e;"></div>
<div style="left:158.0px;top:2216.8px;width:1802.0px;height:0;border-top:1.5px dotted #3e3e3e;"></div>
<div style="left:158.0px;top:2301.2px;width:1802.0px;height:0;border-top:1.5px dotted #3e3e3e;"></div>
<div style="left:158.0px;top:2352.2px;width:1802.0px;height:0;border-top:1.5px dotted #3e3e3e;"></div>
<div style="left:158.0px;top:2394.9px;width:1802.0px;height:0;border-top:1.5px dotted #3e3e3e;"></div>
<div style="left:158.0px;top:2437.8px;width:1802.0px;height:0;border-top:1.5px dotted #3e3e3e;"></div>
<div style="left:515.6px;top:1514.0px;width:148.0px;height:0;border-top:1.5px dotted #3e3e3e;"></div>
<div style="left:1454.8px;top:1514.0px;width:505.2px;height:0;border-top:1.5px dotted #3e3e3e;"></div>
<div style="left:157.4px;top:685.2px;width:1.25px;height:1923.3px;background:#555555;"></div>
<div style="left:1959.4px;top:685.2px;width:1.25px;height:1923.3px;background:#555555;"></div>
<div style="left:515.0px;top:685.2px;width:1.25px;height:1753.3px;background:#555555;"></div>
<div style="left:663.0px;top:685.2px;width:1.25px;height:872.8px;background:#555555;"></div>
<div style="left:663.0px;top:1640.0px;width:1.25px;height:798.5px;background:#555555;"></div>
<div style="left:859.4px;top:685.2px;width:1.25px;height:872.8px;background:#555555;"></div>
<div style="left:859.4px;top:1640.0px;width:1.25px;height:798.5px;background:#555555;"></div>
<div style="left:1454.2px;top:685.2px;width:1.25px;height:1753.3px;background:#555555;"></div>
<div style="left:1620.2px;top:685.2px;width:1.25px;height:1753.3px;background:#555555;"></div>
<div style="left:1778.4px;top:685.2px;width:1.25px;height:1753.3px;background:#555555;"></div>
<div style="left:158.0px;top:2607.4px;width:9.0px;height:0;border-top:1.6px solid #3e3e3e;"></div>
<div style="left:1951.0px;top:2607.4px;width:9.0px;height:0;border-top:1.6px solid #3e3e3e;"></div>
<div style="left:166.0px;top:2439.5px;width:1785.3px;height:168.9px;background:#2060a1;"></div>
<span class="t" style="left:828.6px;top:2445.3px;font-size:21.4px;color:#fff;font-weight:700;transform:scaleX(0.978);">ACCUEIL SUR RENDEZ-VOUS UNIQUEMENT :</span>
<div style="left:173.5px;top:2482.0px;width:5.5px;height:5.5px;background:#fff;"></div>
<span class="t" style="left:213.5px;top:2474.2px;font-size:20.3px;color:#fff;font-weight:700;transform:scaleX(1.047);">AU SIÈGE DE LA COMMUNAUTÉ DE COMMUNES PAYS D’APT LUBERON - 81, avenue Frédéric Mistral 84400 APT</span>
<div style="left:173.5px;top:2511.1px;width:5.5px;height:5.5px;background:#fff;"></div>
<span class="t" style="left:213.5px;top:2503.3px;font-size:20.3px;color:#fff;font-weight:700;transform:scaleX(1.025);">A L’ESPACE DEPARTEMENTAL DES SOLIDARITES – 123, avenue de Lançon 84400 APT</span>
<div style="left:173.5px;top:2539.1px;width:5.5px;height:5.5px;background:#fff;"></div>
<span class="t" style="left:213.5px;top:2531.3px;font-size:20.3px;color:#fff;font-weight:700;transform:scaleX(1.043);">AU CENTRE COMMUNAL D’ACTION SOCIALE D’APT – 29, place Carnot 84400 APT</span>
<span class="t" style="left:743.1px;top:2558.4px;font-size:30.5px;color:#fff;font-weight:700;transform:scaleX(0.952);">06 42 21 53 28 / 06 20 25 06 77 / 07 85 10 33 80</span>
<svg style="left:178.1px;top:2586.0px" width="159" height="150"><polygon fill="#908f9c" points="20.9,0.0 77.5,24.3 61.2,85.1"/><polygon fill="#908f9c" points="0.0,27.4 21.5,30.1 54.9,86.8"/><polygon fill="#908f9c" points="83.8,36.4 109.8,100.1 66.8,87.4"/><polygon fill="#908f9c" points="124.5,51.5 102.8,72.9 118.8,99.6"/><polygon fill="#908f9c" points="128.0,48.6 157.4,59.1 130.2,72.4"/><polygon fill="#908f9c" points="65.6,93.8 100.2,105.4 50.4,138.4"/><polygon fill="#908f9c" points="17.0,148.2 50.7,119.3 45.9,148.2"/></svg>
<span class="t" style="left:306.1px;top:2665.8px;font-size:79.0px;color:#7e7e88;transform:scaleX(0.761);">Le</span>
<span class="t" style="left:389.5px;top:2665.8px;font-size:79.0px;color:#7e7e88;transform:scaleX(0.801);">Lien</span>
<div style="left:310.2px;top:2746.2px;width:196.0px;height:1.8px;background:#55555c;"></div>
<span class="t" style="left:308.4px;top:2757.8px;font-size:22.0px;color:#6a6a72;transform:scaleX(1.038);">Pays d’Apt Luberon</span>
<span class="t" style="left:523.1px;top:2614.5px;font-size:30.0px;color:#1d1d1f;transform:scaleX(0.955);">Retrouvez le calendrier sur</span>
<span class="t" style="left:873.5px;top:2614.5px;font-size:30.0px;color:#1d1d1f;font-weight:700;transform:scaleX(0.973);">www.paysapt-luberon.fr</span>
<span class="t" style="left:524.6px;top:2654.5px;font-size:30.0px;color:#1f5e9c;font-style:italic;transform:scaleX(0.943);">Le Lien ne circule pas les week-ends et jours fériés</span>
<span class="t" style="left:524.2px;top:2697.1px;font-size:30.0px;color:#1d1d1f;font-weight:700;">06 42 21 53 28</span>
<span class="t" style="left:732.7px;top:2696.2px;font-size:31.0px;color:#1d1d1f;transform:scaleX(0.968);">|</span>
<span class="t" style="left:746.0px;top:2697.1px;font-size:30.0px;color:#1d1d1f;font-weight:700;">06 20 25 06 77</span>
<span class="t" style="left:953.6px;top:2696.2px;font-size:31.0px;color:#1d1d1f;transform:scaleX(0.968);">|</span>
<span class="t" style="left:967.9px;top:2697.1px;font-size:30.0px;color:#1d1d1f;transform:scaleX(0.946);">07 85 10 33 80</span>
<span class="t" style="left:524.3px;top:2739.2px;font-size:30.0px;color:#1d1d1f;transform:scaleX(0.946);">04 90 04 49 70</span>
<span class="t" style="left:523.4px;top:2779.5px;font-size:30.0px;color:#1d1d1f;font-weight:700;transform:scaleX(0.970);">lelien@paysapt-luberon.fr</span>
<div style="left:1226.7px;top:2636.0px;width:2.2px;height:141.0px;background:#9a9aa0;"></div>
<svg style="left:1282px;top:2635.500px" width="65" height="26" viewBox="0 0 65 26">
<path fill="#27529d" d="M0.300 0.300 H28.600 L25 8 L29.800 19 L23.500 25.200 H0.300 Z"/>
<path fill="#e1262d" d="M39.700 0.300 H64 V25.200 H36 L36.600 20.300 L41 18.500 L43.200 14 L42.500 8 Z"/>
<path fill="#fff" d="M16 14.500 l6 -1.200 l2.500 2.200 l-5 1 l4 .8 l-1.500 2 l-6 -1.200 z"/>
</svg>
<span class="t" style="left:1280.1px;top:2669.0px;font-size:27.4px;color:#1a1a1a;font-weight:700;transform:scaleX(0.913);">RÉPUBLIQUE</span>
<span class="t" style="left:1280.0px;top:2697.2px;font-size:27.4px;color:#1a1a1a;font-weight:700;transform:scaleX(0.953);">FRANÇAISE</span>
<span class="t" style="left:1282.4px;top:2731.9px;font-size:15.5px;color:#1a1a1a;font-weight:700;font-style:italic;font-family:'Liberation Serif',serif;transform:scaleX(0.893);">Liberté</span>
<span class="t" style="left:1283.6px;top:2748.8px;font-size:15.5px;color:#1a1a1a;font-weight:700;font-style:italic;font-family:'Liberation Serif',serif;transform:scaleX(0.867);">Égalité</span>
<span class="t" style="left:1282.9px;top:2765.8px;font-size:15.5px;color:#1a1a1a;font-weight:700;font-style:italic;font-family:'Liberation Serif',serif;transform:scaleX(0.889);">Fraternité</span>
<svg style="left:1471px;top:2635px" width="137" height="145" viewBox="0 0 137 145">
<path fill="#2c55a2" d="M0.400 0.200 H136.200 V82.700 C100 88 40 100 0.400 123 Z"/>
<g fill="#21478c">
<path d="M4 144.200 V132 C4 119 14.500 119 14.500 132 V144.200 Z"/>
<path d="M19.500 144.200 V128 C19.500 101 56.500 101 56.500 128 V144.200 Z"/>
<path d="M69.500 144.200 V122 C69.500 89 116.500 89 116.500 122 V144.200 Z"/>
<rect x="61.500" y="103" width="3.500" height="16.500"/>
<rect x="16.300" y="119.500" width="2" height="8"/>
</g></svg>
<span class="t" style="left:1476.0px;top:2643.8px;font-size:26.6px;color:#fff;transform:scaleX(0.812);">PAYS D’APT</span>
<span class="t" style="left:1476.8px;top:2670.4px;font-size:26.6px;color:#fff;transform:scaleX(0.971);">LUBERON</span>
<div style="left:1663.5px;top:2640.3px;width:133.2px;height:138.5px;background:#1c61b7;"></div>
<span class="t" style="left:1664.4px;top:2616.1px;font-size:113.0px;color:#fff;transform:scaleX(1.393);-webkit-text-stroke:1.2px #fff;">m</span>
<span class="t" style="left:1671.7px;top:2688.6px;font-size:93.0px;color:#fff;transform:scaleX(1.235);-webkit-text-stroke:1.2px #fff;">sa</span>
<div style="left:1815.5px;top:2640.7px;width:133.5px;height:1.8px;background:#f1d667;"></div>
<div style="left:1815.5px;top:2674.6px;width:133.5px;height:1.8px;background:#f1d667;"></div>
<div style="left:1815.5px;top:2708.8px;width:133.5px;height:1.8px;background:#f1d667;"></div>
<div style="left:1815.5px;top:2742.7px;width:133.5px;height:1.8px;background:#f1d667;"></div>
<div style="left:1815.5px;top:2777.3px;width:133.5px;height:1.8px;background:#f1d667;"></div>
<span class="t" style="left:1817.0px;top:2645.8px;font-size:24.4px;color:#1b5bb0;font-weight:700;transform:scaleX(1.164);">santé</span>
<span class="t" style="left:1817.6px;top:2679.9px;font-size:24.4px;color:#1b5bb0;font-weight:700;transform:scaleX(1.169);">famille</span>
<span class="t" style="left:1816.1px;top:2713.9px;font-size:24.4px;color:#1b5bb0;font-weight:700;transform:scaleX(1.211);">retraite</span>
<span class="t" style="left:1817.0px;top:2747.6px;font-size:24.4px;color:#1b5bb0;font-weight:700;transform:scaleX(1.158);">services</span>
<div style="left:272.0px;top:2826.4px;width:1586.5px;height:0;border-top:1.6px dotted #777;"></div>
<span class="t" style="left:248.6px;top:2832.1px;font-size:23.6px;color:#1d1d1f;font-style:italic;transform:scaleX(0.988);">« Le Lien » est un équipement réalisé par la Communauté de communes Pays d’Apt Luberon, labelisé ESPACE France SERVICES. Opération co-financée</span>
<span class="t" style="left:781.1px;top:2867.1px;font-size:23.6px;color:#1d1d1f;font-style:italic;">par l’État, la CCPAL et la Mutuelle Sociale Agricole.</span>
</div></body></html>
